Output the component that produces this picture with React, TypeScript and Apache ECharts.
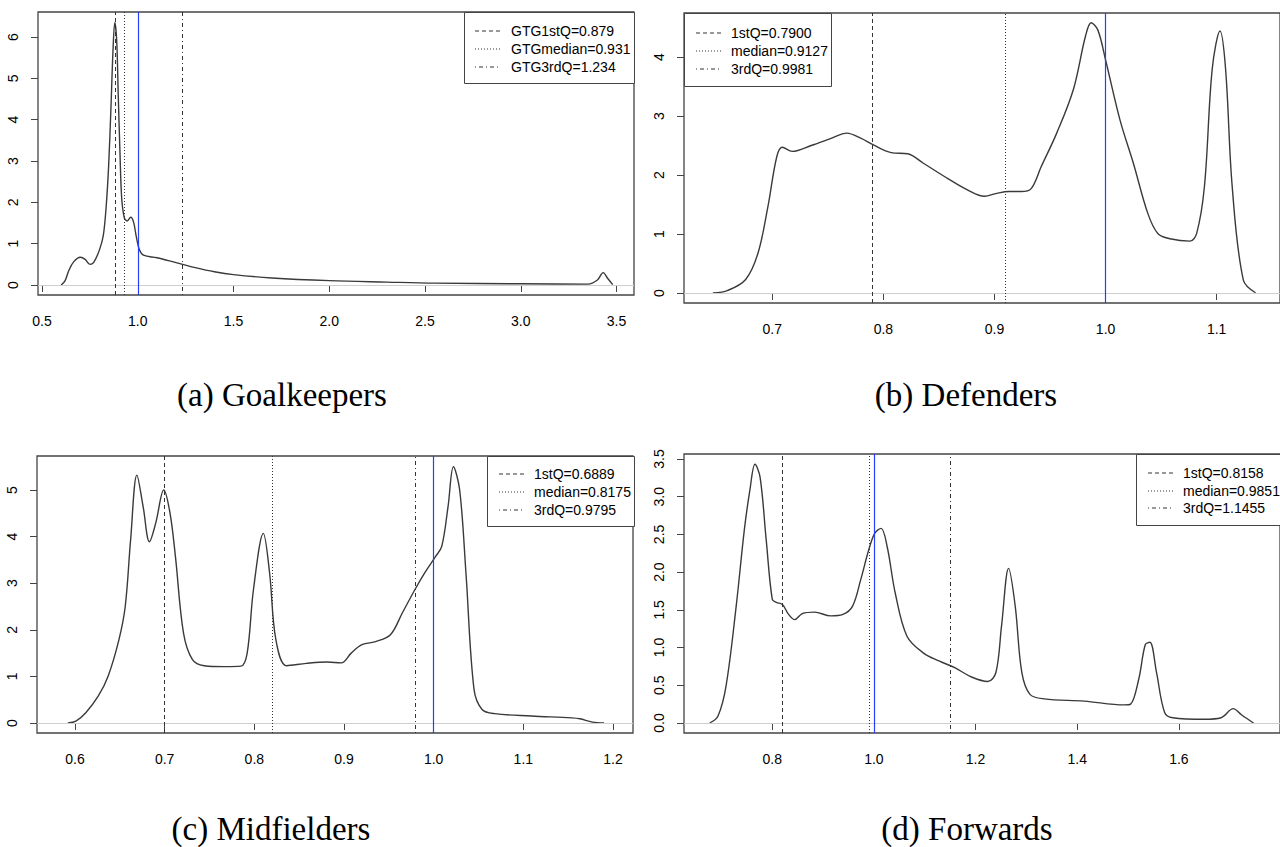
import React, { useEffect, useRef } from "react";
import * as echarts from "echarts";

// ---------------- data ----------------
const panelCaptions = ["(a) Goalkeepers", "(b) Defenders", "(c) Midfielders", "(d) Forwards"];

const goalkeeperDensity: [number, number][] = [
  [0.6, 0.0], [0.62, 0.1], [0.64, 0.35], [0.665, 0.56], [0.7, 0.67], [0.725, 0.62],
  [0.75, 0.5], [0.77, 0.55], [0.8, 0.85], [0.82, 1.2], [0.835, 1.9], [0.848, 2.9],
  [0.86, 4.3], [0.87, 5.6], [0.88, 6.35], [0.89, 5.9], [0.898, 4.6], [0.907, 3.2],
  [0.916, 2.1], [0.93, 1.62], [0.945, 1.55], [0.963, 1.64], [0.978, 1.52], [0.993, 1.15],
  [1.008, 0.86], [1.03, 0.72], [1.1, 0.66], [1.2, 0.54], [1.3, 0.42], [1.4, 0.32],
  [1.5, 0.25], [1.7, 0.17], [2.0, 0.105], [2.3, 0.07], [2.55, 0.045], [3.0, 0.03],
  [3.35, 0.02], [3.4, 0.12], [3.43, 0.3], [3.455, 0.15], [3.48, 0.01],
];

const defenderDensity: [number, number][] = [
  [0.6465, 0.0], [0.66, 0.045], [0.676, 0.23], [0.687, 0.67], [0.696, 1.46], [0.704, 2.31],
  [0.709, 2.47], [0.718, 2.4], [0.735, 2.5], [0.753, 2.62], [0.767, 2.71], [0.78, 2.62],
  [0.791, 2.51], [0.807, 2.38], [0.822, 2.36], [0.836, 2.2], [0.858, 1.94], [0.876, 1.745],
  [0.891, 1.64], [0.902, 1.69], [0.913, 1.72], [0.924, 1.72], [0.933, 1.77], [0.942, 2.14],
  [0.956, 2.71], [0.971, 3.45], [0.982, 4.36], [0.987, 4.58], [0.993, 4.46], [1.0, 3.95],
  [1.013, 2.93], [1.025, 2.2], [1.038, 1.35], [1.047, 1.01], [1.058, 0.92], [1.076, 0.88],
  [1.082, 1.01], [1.089, 1.81], [1.096, 3.8], [1.103, 4.44], [1.108, 3.8], [1.114, 1.8],
  [1.124, 0.22], [1.135, 0.005],
];

const midfielderDensity: [number, number][] = [
  [0.592, 0.0], [0.601, 0.04], [0.612, 0.22], [0.626, 0.58], [0.637, 1.01], [0.649, 1.79],
  [0.656, 2.5], [0.662, 3.93], [0.669, 5.32], [0.676, 4.64], [0.683, 3.89], [0.69, 4.29],
  [0.699, 5.0], [0.706, 4.5], [0.712, 3.57], [0.721, 1.93], [0.731, 1.36], [0.744, 1.23],
  [0.767, 1.21], [0.785, 1.22], [0.792, 1.5], [0.799, 2.86], [0.81, 4.07], [0.817, 3.22],
  [0.824, 1.79], [0.836, 1.23], [0.858, 1.28], [0.881, 1.31], [0.897, 1.29], [0.908, 1.5],
  [0.92, 1.68], [0.936, 1.75], [0.952, 1.9], [0.965, 2.36], [0.979, 2.86], [0.99, 3.22],
  [1.002, 3.57], [1.009, 3.79], [1.016, 4.64], [1.022, 5.5], [1.029, 5.0], [1.036, 3.22],
  [1.045, 0.72], [1.054, 0.29], [1.068, 0.2], [1.109, 0.15], [1.154, 0.11], [1.163, 0.09],
  [1.177, 0.02], [1.19, 0.0],
];

const forwardDensity: [number, number][] = [
  [0.677, 0.0], [0.693, 0.09], [0.709, 0.49], [0.729, 1.55], [0.745, 2.56], [0.756, 3.09],
  [0.766, 3.43], [0.776, 3.26], [0.788, 2.43], [0.8, 1.64], [0.808, 1.6], [0.82, 1.57],
  [0.832, 1.44], [0.844, 1.37], [0.859, 1.45], [0.883, 1.47], [0.915, 1.42], [0.939, 1.44],
  [0.958, 1.55], [0.974, 1.9], [0.99, 2.3], [1.002, 2.52], [1.014, 2.58], [1.026, 2.34],
  [1.042, 1.72], [1.065, 1.15], [1.097, 0.93], [1.129, 0.82], [1.16, 0.73], [1.192, 0.61],
  [1.224, 0.55], [1.24, 0.67], [1.251, 1.28], [1.265, 2.05], [1.278, 1.55], [1.291, 0.67],
  [1.307, 0.38], [1.335, 0.32], [1.414, 0.29], [1.493, 0.24], [1.505, 0.25], [1.521, 0.58],
  [1.534, 1.04], [1.543, 1.07], [1.556, 0.67], [1.572, 0.14], [1.588, 0.07], [1.651, 0.05],
  [1.683, 0.07], [1.707, 0.19], [1.723, 0.11], [1.747, 0.0],
];

const goalkeeperQuartileLabels = ["GTG1stQ=0.879", "GTGmedian=0.931", "GTG3rdQ=1.234"];
const defenderQuartileLabels = ["1stQ=0.7900", "median=0.9127", "3rdQ=0.9981"];
const midfielderQuartileLabels = ["1stQ=0.6889", "median=0.8175", "3rdQ=0.9795"];
const forwardQuartileLabels = ["1stQ=0.8158", "median=0.9851", "3rdQ=1.1455"];

// positions where the quartile lines are drawn in the picture
const goalkeeperQuartiles = [0.879, 0.931, 1.234];
const defenderQuartiles = [0.79, 0.9127, 0.9981];
const midfielderQuartiles = [0.7, 0.8175, 0.9795];
const forwardQuartiles = [0.8158, 0.9851, 1.1455];

const referenceLine = 1.0;

const goalkeeperXTicks = [0.5, 1.0, 1.5, 2.0, 2.5, 3.0, 3.5];
const goalkeeperYTicks = [0, 1, 2, 3, 4, 5, 6];
const defenderXTicks = [0.7, 0.8, 0.9, 1.0, 1.1];
const defenderYTicks = [0, 1, 2, 3, 4];
const midfielderXTicks = [0.6, 0.7, 0.8, 0.9, 1.0, 1.1, 1.2];
const midfielderYTicks = [0, 1, 2, 3, 4, 5];
const forwardXTicks = [0.8, 1.0, 1.2, 1.4, 1.6];
const forwardYTicks = [0, 0.5, 1.0, 1.5, 2.0, 2.5, 3.0, 3.5];

// ---------------- layout ----------------
const panels = [
  {
    density: goalkeeperDensity, q: goalkeeperQuartiles, qLabels: goalkeeperQuartileLabels,
    xTicks: goalkeeperXTicks, yTicks: goalkeeperYTicks, yDigits: 0,
    left: 38, top: 12, width: 596, height: 283,
    xMin: 0.479, xMax: 3.591, yMin: -0.242, yMax: 6.605,
    legend: { x: 464, y: 12, w: 170, h: 71, rows: [31, 49, 67], s0: 475, s1: 501, tx: 511 },
    caption: { x: 282, y: 395 },
  },
  {
    density: defenderDensity, q: defenderQuartiles, qLabels: defenderQuartileLabels,
    xTicks: defenderXTicks, yTicks: defenderYTicks, yDigits: 0,
    left: 684, top: 13, width: 601, height: 290,
    xMin: 0.6205, xMax: 1.157, yMin: -0.169, yMax: 4.746,
    legend: { x: 684, y: 13, w: 147, h: 73, rows: [33, 51, 69], s0: 696, s1: 722, tx: 731 },
    caption: { x: 966, y: 395 },
  },
  {
    density: midfielderDensity, q: midfielderQuartiles, qLabels: midfielderQuartileLabels,
    xTicks: midfielderXTicks, yTicks: midfielderYTicks, yDigits: 0,
    left: 37, top: 456, width: 596, height: 277,
    xMin: 0.5576, xMax: 1.2223, yMin: -0.2146, yMax: 5.73,
    legend: { x: 487, y: 456, w: 147, h: 70, rows: [474, 492, 510], s0: 499, s1: 524, tx: 534 },
    caption: { x: 271, y: 829 },
  },
  {
    density: forwardDensity, q: forwardQuartiles, qLabels: forwardQuartileLabels,
    xTicks: forwardXTicks, yTicks: forwardYTicks, yDigits: 1,
    left: 684, top: 454, width: 601, height: 279,
    xMin: 0.6263, xMax: 1.799, yMin: -0.1326, yMax: 3.566,
    legend: { x: 1136, y: 454, w: 160, h: 71, rows: [473, 491, 508], s0: 1148, s1: 1173, tx: 1183 },
    caption: { x: 967, y: 829 },
  },
];

const dashPatterns: number[][] = [[4, 3], [1, 2], [1, 3, 4, 3]];
const INK = "#333";
const BOX = "#444";
const SANS = "'Liberation Sans', Arial, sans-serif";
const SERIF = "'Liberation Serif', 'Times New Roman', serif";

export default function App() {
  const ref = useRef<HTMLDivElement>(null);

  useEffect(() => {
    if (!ref.current) return;
    const chart = echarts.init(ref.current, undefined, { renderer: "svg" });

    const graphic: any[] = [];
    panels.forEach((p, i) => {
      const L = p.legend;
      graphic.push({
        type: "rect", z: 100,
        shape: { x: L.x + 0.5, y: L.y + 0.5, width: L.w, height: L.h },
        style: { fill: "#fff", stroke: BOX, lineWidth: 1 },
      });
      p.qLabels.forEach((lab, k) => {
        graphic.push({
          type: "line", z: 101,
          shape: { x1: L.s0, y1: L.rows[k], x2: L.s1, y2: L.rows[k] },
          style: { stroke: INK, lineWidth: 1, lineDash: dashPatterns[k] },
        });
        graphic.push({
          type: "text", z: 101, x: L.tx, y: L.rows[k],
          style: { text: lab, font: `14px ${SANS}`, fill: "#000", textVerticalAlign: "middle", textAlign: "left" },
        });
      });
      graphic.push({
        type: "text", z: 101, x: p.caption.x, y: p.caption.y,
        style: { text: panelCaptions[i], font: `33px ${SERIF}`, fill: "#000", textAlign: "center", textVerticalAlign: "middle" },
      });
    });

    const option: any = {
      animation: false,
      backgroundColor: "#fff",
      grid: panels.map((p) => ({
        left: p.left, top: p.top, width: p.width, height: p.height,
        show: true, borderColor: BOX, borderWidth: 1.3, backgroundColor: "transparent",
      })),
      xAxis: panels.map((p, i) => ({
        type: "value", gridIndex: i, min: p.xMin, max: p.xMax,
        splitLine: { show: false },
        axisLine: { show: false },
        axisTick: { show: true, length: 7, inside: false, customValues: p.xTicks, lineStyle: { color: BOX, width: 1 } },
        axisLabel: {
          customValues: p.xTicks, margin: 19, fontSize: 14, color: "#000", fontFamily: SANS,
          formatter: (v: number) => v.toFixed(1),
        },
      })),
      yAxis: panels.map((p, i) => ({
        type: "value", gridIndex: i, min: p.yMin, max: p.yMax,
        splitLine: { show: false },
        axisLine: { show: false },
        axisTick: { show: true, length: 7, inside: false, customValues: p.yTicks, lineStyle: { color: BOX, width: 1 } },
        axisLabel: {
          customValues: p.yTicks, margin: 18, rotate: 90, fontSize: 14, color: "#000", fontFamily: SANS,
          formatter: (v: number) => v.toFixed(p.yDigits),
        },
      })),
      series: panels.map((p, i) => ({
        type: "line", xAxisIndex: i, yAxisIndex: i,
        data: p.density, symbol: "none", showSymbol: false, smooth: 0.35,
        lineStyle: { color: "#3a3a3a", width: 1.4 },
        silent: true,
        markLine: {
          silent: true, symbol: ["none", "none"], label: { show: false },
          emphasis: { disabled: true },
          data: [
            { yAxis: 0, lineStyle: { color: "#cfcfcf", type: "solid", width: 1.2 } },
            ...p.q.map((qv, k) => ({ xAxis: qv, lineStyle: { color: INK, type: dashPatterns[k], width: 1 } })),
            { xAxis: referenceLine, lineStyle: { color: "#2a3cff", type: "solid", width: 1.2 } },
          ],
        },
      })),
      graphic,
    };

    chart.setOption(option);
    return () => chart.dispose();
  }, []);

  return (
    <div
      ref={ref}
      style={{ position: "absolute", left: 0, top: 0, width: 1280, height: 847, background: "#fff" }}
    />
  );
}
